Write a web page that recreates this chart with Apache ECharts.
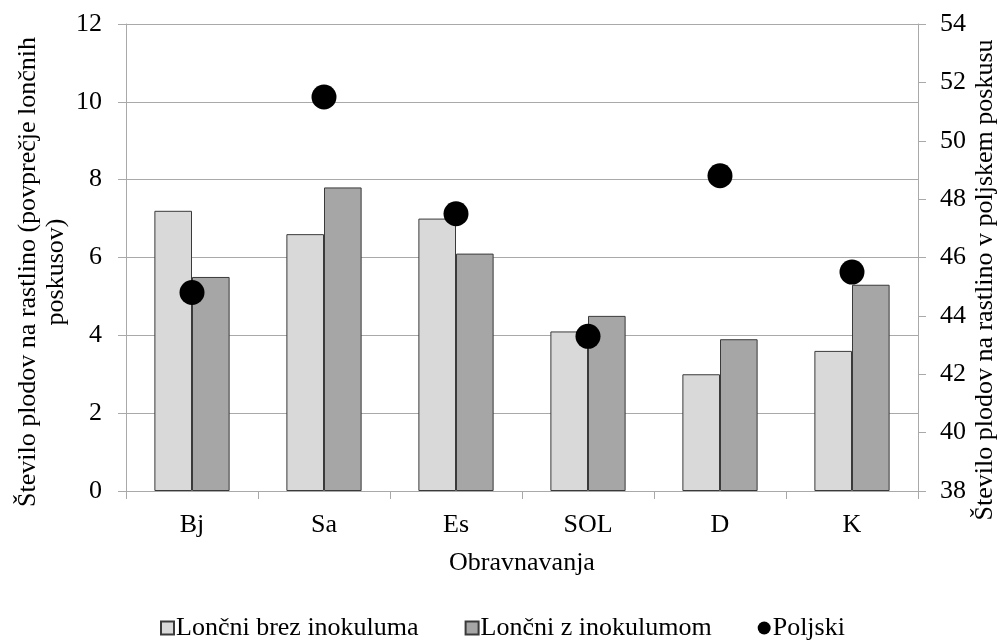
<!DOCTYPE html>
<html>
<head>
<meta charset="utf-8">
<script src="https://cdn.jsdelivr.net/npm/echarts@6/dist/echarts.min.js"></script>
<style>
  html, body { margin: 0; padding: 0; background: #fff; }
  #chart { width: 1005px; height: 644px; }
</style>
</head>
<body>
<div id="chart"></div>
<script>
// Treatments on the category axis
const categories = ['Bj', 'Sa', 'Es', 'SOL', 'D', 'K'];
// Pot trials: mean fruits per plant
const potNoInoculum = [7.2, 6.6, 7.0, 4.1, 3.0, 3.6];
const potWithInoculum = [5.5, 7.8, 6.1, 4.5, 3.9, 5.3];
// Field trial: fruits per plant (right axis)
const field = [44.8, 51.5, 47.5, 43.3, 48.8, 45.5];

const seriesNames = ['Lončni brez inokuluma', 'Lončni z inokulumom', 'Poljski'];
const xTitle = 'Obravnavanja';
const leftTitleLines = ['Število plodov na rastlino (povprečje lončnih', 'poskusov)'];
const rightTitle = 'Število plodov na rastlino v poljskem poskusu';

const FONT = '"Liberation Serif", "Times New Roman", serif';
const gridGray = '#a9a9a9';
const FS = 26;

// Vertical axis titles, rotated to read bottom-to-top
function vTitle(text, x, y) {
  return {
    type: 'text',
    x: x, y: y,
    rotation: Math.PI / 2,
    style: {
      text: text,
      font: FS + 'px ' + FONT,
      fill: '#000',
      textAlign: 'center',
      textVerticalAlign: 'middle'
    }
  };
}

const chart = echarts.init(document.getElementById('chart'));
chart.setOption({
  backgroundColor: '#ffffff',
  animation: false,
  textStyle: { fontFamily: FONT, color: '#000' },
  grid: { left: 126, right: 87, top: 24, bottom: 153, containLabel: false },
  graphic: [
    vTitle(leftTitleLines[0], 28, 272),
    vTitle(leftTitleLines[1], 56, 272),
    vTitle(rightTitle, 985, 280)
  ],
  legend: {
    top: 610,
    left: 155,
    itemGap: 46,
    itemWidth: 13,
    itemHeight: 13,
    textStyle: { fontFamily: FONT, fontSize: FS, color: '#000', padding: [0, 0, 0, -3] },
    data: [
      { name: seriesNames[0], icon: 'rect' },
      { name: seriesNames[1], icon: 'rect' },
      { name: seriesNames[2], icon: 'circle' }
    ]
  },
  xAxis: {
    type: 'category',
    data: categories,
    name: xTitle,
    nameLocation: 'middle',
    nameGap: 59,
    nameTextStyle: { fontFamily: FONT, fontSize: FS, color: '#000' },
    axisLine: { lineStyle: { color: gridGray, width: 1 } },
    axisTick: { show: true, alignWithLabel: false, length: 8, lineStyle: { color: gridGray } },
    axisLabel: { fontFamily: FONT, fontSize: FS, color: '#000', margin: 21 }
  },
  yAxis: [
    {
      type: 'value',
      min: 0, max: 12, interval: 2,
      axisLine: { show: true, lineStyle: { color: gridGray } },
      axisTick: { show: true, length: 8, lineStyle: { color: gridGray } },
      axisLabel: { fontFamily: FONT, fontSize: FS, color: '#000', margin: 24 },
      splitLine: { show: true, lineStyle: { color: gridGray, width: 1 } }
    },
    {
      type: 'value',
      min: 38, max: 54, interval: 2,
      position: 'right',
      axisLine: { show: true, lineStyle: { color: gridGray } },
      axisTick: { show: true, length: 8, lineStyle: { color: gridGray } },
      axisLabel: { fontFamily: FONT, fontSize: FS, color: '#000', margin: 22 },
      splitLine: { show: false }
    }
  ],
  series: [
    {
      name: seriesNames[0],
      type: 'bar',
      yAxisIndex: 0,
      data: potNoInoculum,
      barGap: '0%',
      barCategoryGap: '43%',
      itemStyle: { color: '#d9d9d9', borderColor: '#3a3a3a', borderWidth: 1 }
    },
    {
      name: seriesNames[1],
      type: 'bar',
      yAxisIndex: 0,
      data: potWithInoculum,
      barGap: '0%',
      barCategoryGap: '43%',
      itemStyle: { color: '#a6a6a6', borderColor: '#3a3a3a', borderWidth: 1 }
    },
    {
      name: seriesNames[2],
      type: 'scatter',
      yAxisIndex: 1,
      data: field,
      symbol: 'circle',
      symbolSize: 25,
      itemStyle: { color: '#000', opacity: 1 },
      z: 5
    }
  ]
});
</script>
</body>
</html>
